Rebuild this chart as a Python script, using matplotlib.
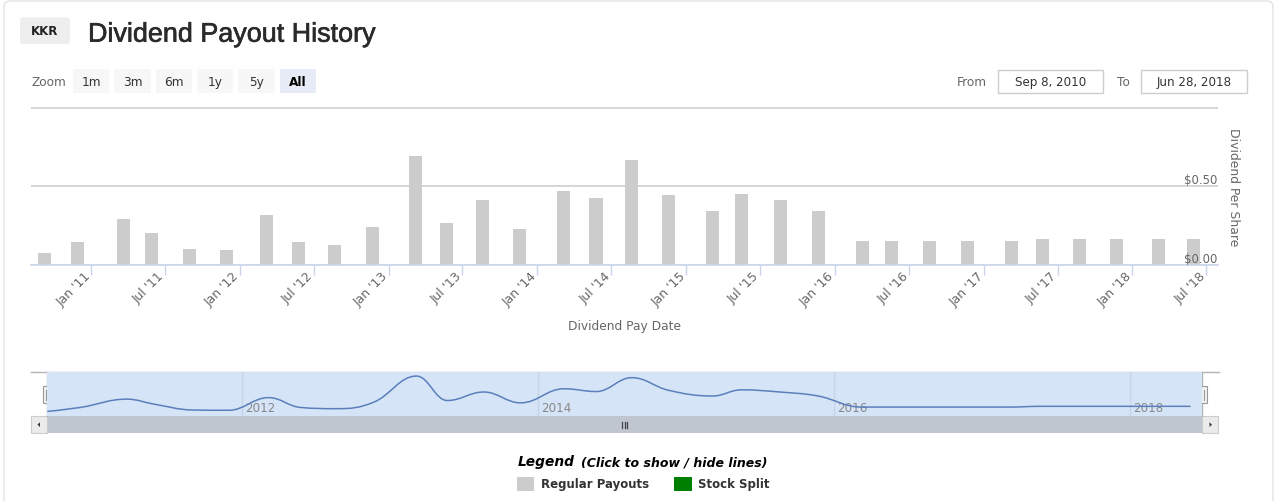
import numpy as np
import pandas as pd
import matplotlib
matplotlib.use("Agg")
import matplotlib.pyplot as plt
import matplotlib.dates as mdates
import matplotlib.transforms as mtransforms
import matplotlib.patheffects as pe
from matplotlib.path import Path
from matplotlib.patches import PathPatch, FancyBboxPatch, Rectangle, Polygon

plt.rcParams["font.family"] = ["DejaVu Sans"]

# ---- data ----
ticker = "KKR"
title = "Dividend Payout History"
pay_dates = ["2010-09-08", "2010-11-29", "2011-03-23", "2011-05-31", "2011-09-01",
             "2011-11-30", "2012-03-07", "2012-05-24", "2012-08-22", "2012-11-22",
             "2013-03-07", "2013-05-22", "2013-08-20", "2013-11-19", "2014-03-06",
             "2014-05-25", "2014-08-20", "2014-11-19", "2015-03-08", "2015-05-18",
             "2015-08-20", "2015-11-23", "2016-03-09", "2016-05-20", "2016-08-21",
             "2016-11-22", "2017-03-09", "2017-05-24", "2017-08-23", "2017-11-22",
             "2018-03-05", "2018-05-30"]
dividends = [0.075, 0.145, 0.29, 0.20, 0.10, 0.095, 0.317, 0.145, 0.123, 0.238,
             0.694, 0.266, 0.415, 0.225, 0.472, 0.423, 0.666, 0.445, 0.345, 0.453,
             0.415, 0.345, 0.151, 0.151, 0.151, 0.151, 0.151, 0.164, 0.164, 0.164,
             0.164, 0.164]
tick_dates = ["2011-01-01", "2011-07-01", "2012-01-01", "2012-07-01", "2013-01-01",
              "2013-07-01", "2014-01-01", "2014-07-01", "2015-01-01", "2015-07-01",
              "2016-01-01", "2016-07-01", "2017-01-01", "2017-07-01", "2018-01-01",
              "2018-07-01"]
tick_labels = ["Jan '11", "Jul '11", "Jan '12", "Jul '12", "Jan '13", "Jul '13",
               "Jan '14", "Jul '14", "Jan '15", "Jul '15", "Jan '16", "Jul '16",
               "Jan '17", "Jul '17", "Jan '18", "Jul '18"]
ytick_vals = [0.0, 0.5, 1.0]
ytick_labels = ["$0.00", "$0.50", ""]
nav_years = [2012, 2014, 2016, 2018]
zoom_buttons = ["1m", "3m", "6m", "1y", "5y", "All"]
range_from = "Sep 8, 2010"
range_to = "Jun 28, 2018"
legend_items = ["Regular Payouts", "Stock Split"]
legend_colors = ["#cccccc", "#008000"]

x = mdates.date2num(pd.to_datetime(pay_dates))
y = np.array(dividends)

W, H = 1280, 502


def rect(x0, y0, x1, y1):
    # pixel box (origin top-left) -> figure fraction
    return [x0 / W, 1 - y1 / H, (x1 - x0) / W, (y1 - y0) / H]


fig = plt.figure(figsize=(12.8, 5.02), dpi=100)

# page furniture drawn in pixel coordinates
ui = fig.add_axes([0, 0, 1, 1])
ui.set_xlim(0, W)
ui.set_ylim(H, 0)
ui.axis("off")

ui.add_patch(FancyBboxPatch((4, 2), 1269, 540, boxstyle="round,pad=0,rounding_size=6",
                            fc="none", ec="#e3e3e3", lw=1))
ui.add_patch(FancyBboxPatch((20, 18.3), 50, 26.7, boxstyle="round,pad=0,rounding_size=3",
                            fc="#eeeeee", ec="none"))
ui.text(45, 31.8, ticker, ha="center", va="center", fontsize=8.5, fontweight="bold",
        color="#222222")
ui.text(88, 42.7, title, ha="left", va="baseline", fontsize=19.4,
        family=["Liberation Sans", "DejaVu Sans"], color="#2a2a2a",
        path_effects=[pe.withStroke(linewidth=0.45, foreground="#2a2a2a")])

ui.text(31.5, 82, "Zoom", ha="left", va="center", fontsize=8.7, color="#666666")
btn_x = [(72.7, 109.3), (114, 151), (156, 191.7), (196.7, 233.3), (238, 275), (280, 315.7)]
for (bx0, bx1), lab in zip(btn_x, zoom_buttons):
    sel = lab == "All"
    ui.add_patch(Rectangle((bx0, 70), bx1 - bx0, 24.3, fc="#e6ebf5" if sel else "#f7f7f7",
                           ec="none"))
    ui.text((bx0 + bx1) / 2, 82.3, lab, ha="center", va="center", fontsize=8.7,
            color="#000000" if sel else "#333333", fontweight="bold" if sel else "normal")

ui.text(956.7, 82, "From", ha="left", va="center", fontsize=8.7, color="#666666")
ui.text(1116.7, 82, "To", ha="left", va="center", fontsize=8.7, color="#666666")
for bx0, bx1, txt in [(997.7, 1103.3, range_from), (1140.7, 1246.7, range_to)]:
    ui.add_patch(Rectangle((bx0, 70.7), bx1 - bx0, 23.3, fc="white", ec="#cccccc", lw=1))
    ui.text((bx0 + bx1) / 2, 82.5, txt, ha="center", va="center", fontsize=8.6,
            color="#333333")

# ---- main chart ----
ax = fig.add_axes(rect(31, 108.3, 1218, 265.7))
ax.bar(x, y, width=32, color=legend_colors[0], zorder=2)
ax.set_xlim(mdates.date2num(pd.Timestamp("2010-08-07")),
            mdates.date2num(pd.Timestamp("2018-07-30")))
ax.set_ylim(0, 1.003)
for s in ["top", "left", "right"]:
    ax.spines[s].set_visible(False)
ax.spines["bottom"].set_color("#ccd6eb")
ax.spines["bottom"].set_linewidth(1.2)
ax.set_axisbelow(True)
ax.yaxis.grid(True, color="#d0d0d0", lw=1.2)

ax.set_xticks(mdates.date2num(pd.to_datetime(tick_dates)))
ax.set_xticklabels(tick_labels)
ax.tick_params(axis="x", length=7.2, width=1, color="#ccd6eb", labelcolor="#666666",
               labelsize=8.9, pad=1.3)
for lbl in ax.get_xticklabels():
    lbl.set_rotation(45)
    lbl.set_ha("right")
    lbl.set_va("baseline")
    lbl.set_rotation_mode("anchor")

# y labels sit inside the plot, above their gridlines, drawn over the bars
ax.set_yticks(ytick_vals)
ax.set_yticklabels([])
ax.tick_params(axis="y", length=0)
ytr = mtransforms.blended_transform_factory(ax.transAxes, ax.transData)
ytr = ytr + mtransforms.ScaledTranslation(-0.5 / 100, 0, fig.dpi_scale_trans)
for v, lab in zip(ytick_vals, ytick_labels):
    ax.text(1, v, lab, transform=ytr, ha="right", va="bottom", fontsize=8.4,
            color="#666666", zorder=4)

ax.set_xlabel("Dividend Pay Date", fontsize=8.8, color="#666666")
ax.xaxis.set_label_coords(0.5, (265.7 - 327) / 157.4)
ax.xaxis.label.set_va("center")
ax.yaxis.set_label_position("right")
ax.set_ylabel("Dividend Per Share", rotation=270, fontsize=8.9, color="#666666")
ax.yaxis.set_label_coords((1234 - 31) / (1218 - 31), 0.5)
ax.yaxis.label.set_va("center")
ax.yaxis.label.set_ha("center")

# ---- navigator ----
nav = fig.add_axes(rect(47.3, 373.3, 1202.3, 416.7))
nav.set_facecolor("#d6e4f7")
nav.set_xlim(mdates.date2num(pd.to_datetime(range_from)),
             mdates.date2num(pd.to_datetime(range_to)))
nav.set_ylim(0, 0.76)
for s in nav.spines.values():
    s.set_visible(False)
year_x = mdates.date2num(pd.to_datetime([f"{yr}-01-01" for yr in nav_years]))
nav.set_xticks(year_x)
nav.set_xticklabels([])
nav.set_yticks([])
nav.tick_params(axis="x", length=0)
nav.xaxis.grid(True, color="#c8d4e8", lw=1)
tr = mtransforms.blended_transform_factory(nav.transData, nav.transAxes)
tr = tr + mtransforms.ScaledTranslation(3 / 100, 0, fig.dpi_scale_trans)
for xx, yr in zip(year_x, nav_years):
    nav.text(xx, 0.19, str(yr), transform=tr, ha="left", va="center", fontsize=8.6,
             color="#888888")

# spline through the data points (Highcharts style control points)
smooth = 1.5
lc = [None] * len(x)
rc = [None] * len(x)
for i in range(len(x)):
    if 0 < i < len(x) - 1:
        lx = (smooth * x[i] + x[i - 1]) / (smooth + 1)
        ly = (smooth * y[i] + y[i - 1]) / (smooth + 1)
        rx = (smooth * x[i] + x[i + 1]) / (smooth + 1)
        ry = (smooth * y[i] + y[i + 1]) / (smooth + 1)
        corr = (ry - ly) * (rx - x[i]) / (rx - lx) + y[i] - ry
        ly += corr
        ry += corr
        if ly > y[i - 1] and ly > y[i]:
            ly = max(y[i - 1], y[i]); ry = 2 * y[i] - ly
        elif ly < y[i - 1] and ly < y[i]:
            ly = min(y[i - 1], y[i]); ry = 2 * y[i] - ly
        if ry > y[i + 1] and ry > y[i]:
            ry = max(y[i + 1], y[i]); ly = 2 * y[i] - ry
        elif ry < y[i + 1] and ry < y[i]:
            ry = min(y[i + 1], y[i]); ly = 2 * y[i] - ry
        lc[i] = (lx, ly)
        rc[i] = (rx, ry)
    else:
        lc[i] = (x[i], y[i])
        rc[i] = (x[i], y[i])
verts = [(x[0], y[0])]
codes = [Path.MOVETO]
for i in range(1, len(x)):
    verts += [rc[i - 1], lc[i], (x[i], y[i])]
    codes += [Path.CURVE4] * 3
nav.add_patch(PathPatch(Path(verts, codes), fc="none", ec="#5b7fbb", lw=1.1, zorder=3))

# navigator outline, handles and scrollbar
ui.plot([31, 1219], [373.3, 373.3], color="#b3b3b3", lw=1)
for hx in [47.3, 1202.3]:
    ui.plot([hx, hx], [373.3, 417], color="#b3b3b3", lw=1)
    ui.add_patch(Rectangle((hx - 4.6, 386.7), 9.2, 17.3, fc="#f2f2f2", ec="#999999", lw=0.8,
                           zorder=5))
    for dx in (-1.3, 1.3):
        ui.plot([hx + dx, hx + dx], [390.5, 400.5], color="#999999", lw=0.8, zorder=6)
ui.add_patch(Rectangle((47.3, 417.3), 1155, 16.7, fc="#bfc6d0", ec="none"))
for bx0 in [31, 1202.3]:
    ui.add_patch(Rectangle((bx0, 417.3), 16, 16.7, fc="#ebebeb", ec="#cccccc", lw=0.8))
ui.add_patch(Polygon([(37.5, 425.6), (40, 423.3), (40, 428)], closed=True, fc="#333333",
                     ec="none"))
ui.add_patch(Polygon([(1212, 425.6), (1209.5, 423.3), (1209.5, 428)], closed=True,
                     fc="#333333", ec="none"))
for gx in (621.8, 624.5, 627.2):
    ui.plot([gx, gx], [422.5, 429], color="#444444", lw=0.9)

# ---- legend ----
ui.text(518, 462.5, "Legend", ha="left", va="center", fontsize=9.9, fontweight="bold",
        fontstyle="italic", color="#000000")
ui.text(581, 463, "(Click to show / hide lines)", ha="left", va="center", fontsize=9,
        fontweight="bold", fontstyle="italic", color="#000000")
for lx0, tx0, lab, col in zip([516.7, 674.3], [540.7, 697.7], legend_items, legend_colors):
    ui.add_patch(Rectangle((lx0, 477.7), 17.3, 14, fc=col, ec="none"))
    ui.text(tx0, 485, lab, ha="left", va="center", fontsize=8.5, fontweight="bold",
            color="#333333")

fig.savefig("out.png", dpi=100)
